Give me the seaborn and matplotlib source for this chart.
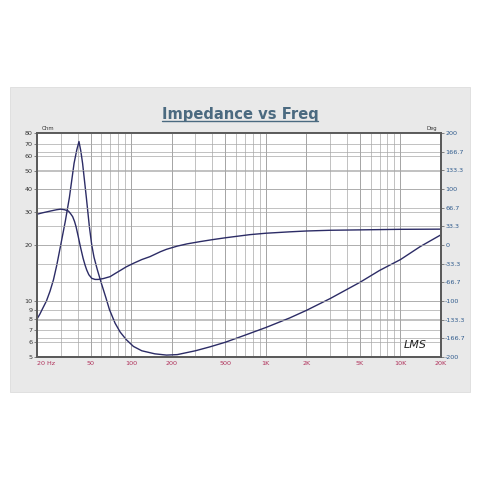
import matplotlib
matplotlib.use("Agg")
import matplotlib.pyplot as plt
import seaborn as sns
import pandas as pd
import numpy as np
from matplotlib.patches import Rectangle
from matplotlib.lines import Line2D
from matplotlib.ticker import FixedLocator, NullFormatter, NullLocator

# ---- data ----
imp_freq = [20, 21, 22, 23.5, 25, 26.5, 28, 30, 32.5, 34.8, 37.7, 39.5, 41, 42.3, 43.6, 46.5, 49, 51, 53,
            56, 60, 65, 69, 76, 83, 92, 104, 120, 150, 183, 220, 300, 385, 500, 700, 1000, 1500, 2000,
            3000, 5000, 7000, 10000, 14000, 20000]
imp_ohm = [8.0, 8.5, 9.1, 10.0, 11.3, 13.0, 15.5, 20, 27, 36, 55, 65, 72, 64, 55, 36, 25, 20, 17.2,
           14.8, 12.5, 10.4, 9.0, 7.6, 6.8, 6.2, 5.7, 5.4, 5.2, 5.12, 5.15, 5.4, 5.67, 6.0, 6.55, 7.2,
           8.1, 8.9, 10.3, 12.6, 14.6, 16.7, 19.6, 22.7]

ph_freq = [20, 22, 25, 28, 30, 32, 34.2, 35.5, 36.8, 38, 39, 40.5, 42, 44, 45.5, 46.8, 48.5, 51, 54, 57,
           62, 69.8, 76, 83, 92, 104, 120, 138, 165, 183, 220, 260, 324, 400, 505, 762, 1000, 1500,
           2000, 3000, 5000, 10000, 20000]
ph_deg = [55, 57.5, 60.5, 63, 64, 63, 60.7, 56, 50.6, 42, 32.7, 14.9, -3, -23.8, -36, -44.6, -53, -59.5,
          -61.5, -61.5, -60, -56.5, -51, -45.5, -39, -32.7, -26, -20.8, -12, -7.7, -2, 2, 6, 9.5, 13,
          18.5, 21, 23.5, 25, 26.3, 27, 28, 28.3]

x_major = [20, 50, 100, 200, 500, 1000, 2000, 5000, 10000, 20000]
x_labels = ["20 Hz", "50", "100", "200", "500", "1K", "2K", "5K", "10K", "20K"]
ohm_ticks = [5, 6, 7, 8, 9, 10, 20, 30, 40, 50, 60, 70, 80]
deg_ticks = [-200, -166.7, -133.3, -100, -66.7, -33.3, 0, 33.3, 66.7, 100, 133.3, 166.7, 200]
deg_labels = ["-200", "-166.7", "-133.3", "-100", "-66.7", "-33.3", "0", "33.3", "66.7", "100",
              "133.3", "166.7", "200"]

imp_df = pd.DataFrame({"freq": imp_freq, "ohm": imp_ohm})
ph_df = pd.DataFrame({"freq": ph_freq, "deg": ph_deg})

sns.set_style("white")
plt.rcParams["font.family"] = ["DejaVu Sans"]

fig = plt.figure(figsize=(4.8, 4.8), dpi=100)
fig.patch.set_facecolor("white")
panel = Rectangle((10 / 480, 1 - 392 / 480), 460 / 480, 305 / 480,
                  transform=fig.transFigure, facecolor="#e9e9e9",
                  edgecolor="#dddddd", lw=0.6, zorder=-10)
fig.patches.append(panel)

ax = fig.add_axes([37 / 480, 1 - 357 / 480, 404 / 480, 224 / 480], zorder=1)
ax.set_facecolor("white")
ax2 = ax.twinx()

line_col = "#2c2c66"
grid_col = "#a8a8a8"

sns.lineplot(data=ph_df, x="freq", y="deg", ax=ax2, color=line_col, lw=1.0, sort=False)
sns.lineplot(data=imp_df, x="freq", y="ohm", ax=ax, color=line_col, lw=1.0, sort=False)

ax.set_xscale("log")
ax.set_yscale("log")
ax.set_xlim(20, 20000)
ax.set_ylim(5, 80)
ax2.set_ylim(-200, 200)

ax.xaxis.set_major_locator(FixedLocator(x_major))
ax.set_xticklabels(x_labels)
minor_x = [m * 10 ** e for e in range(1, 5) for m in range(2, 10)
           if 20 <= m * 10 ** e <= 20000 and m * 10 ** e not in x_major]
ax.xaxis.set_minor_locator(FixedLocator(minor_x))
ax.xaxis.set_minor_formatter(NullFormatter())

ax.yaxis.set_major_locator(FixedLocator(ohm_ticks))
ax.set_yticklabels([str(t) for t in ohm_ticks])
ax.yaxis.set_minor_locator(NullLocator())
ax2.yaxis.set_major_locator(FixedLocator(deg_ticks))
ax2.set_yticklabels(deg_labels)

ax.grid(True, which="major", axis="x", color="#959595", lw=0.6)
ax.grid(True, which="minor", axis="x", color=grid_col, lw=0.5)
ax.grid(True, which="major", axis="y", color=grid_col, lw=0.5)
ax2.grid(True, which="major", axis="y", color=grid_col, lw=0.5)
ax.set_axisbelow(True)

ax.set_xlabel("")
ax.set_ylabel("")
ax2.set_ylabel("")

ax.tick_params(axis="x", which="both", length=0, labelsize=4.6, labelcolor="#b0305a", pad=3)
ax.tick_params(axis="y", which="both", length=2, width=0.5, color="#555555",
               labelsize=4.6, labelcolor="#333333", pad=1)
ax2.tick_params(axis="y", length=2, width=0.5, color="#555555", labelsize=4.6,
                labelcolor="#2e5a8c", pad=1)
for lab in ax.get_xticklabels():
    if lab.get_text() == "20 Hz":
        lab.set_horizontalalignment("left")

for a in (ax, ax2):
    for s in a.spines.values():
        s.set_color("#5a5a5a")
        s.set_linewidth(1.3)

ax.text(0.012, 1.01, "Ohm", transform=ax.transAxes, fontsize=3.8, color="#333333",
        ha="left", va="bottom")
ax.text(0.99, 1.01, "Deg", transform=ax.transAxes, fontsize=3.8, color="#333333",
        ha="right", va="bottom")
ax.text(0.965, 0.03, "LMS", transform=ax.transAxes, fontsize=8, color="#222222",
        ha="right", va="bottom", fontstyle="italic", family="DejaVu Sans")

title = fig.text(0.5, 1 - 114 / 480, "Impedance vs Freq", ha="center", va="center",
                 fontsize=10.6, fontweight="bold", color="#4b6a80")
fig.canvas.draw()
bb = title.get_window_extent().transformed(fig.transFigure.inverted())
fig.lines.append(Line2D([bb.x0, bb.x1], [bb.y0 + 0.001, bb.y0 + 0.001],
                        transform=fig.transFigure, color="#4b6a80", lw=1.0))

fig.savefig("out.png", dpi=100)
